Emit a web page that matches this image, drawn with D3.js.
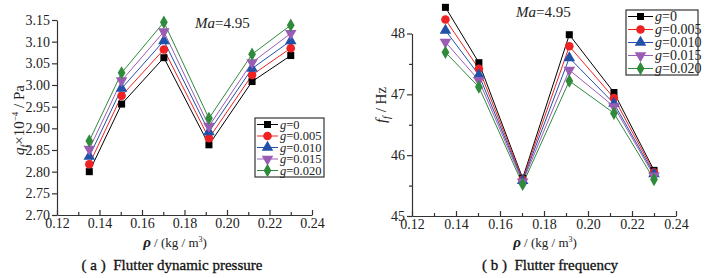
<!DOCTYPE html>
<html>
<head>
<meta charset="utf-8">
<script src="https://cdn.jsdelivr.net/npm/d3@7/dist/d3.min.js"></script>
<style>
  body { margin: 0; background: #fff; }
  svg { display: block; }
  svg text { font-family: "Liberation Serif", "Times New Roman", Times, serif; }
  .axis path, .axis line { stroke: #333; stroke-width: 1.2; }
  .axis text { font-size: 14px; fill: #222; }
</style>
</head>
<body>
<svg id="chart" width="713" height="278"></svg>
<script>
// densities (kg/m3)
const rho = [0.1352, 0.1504, 0.1703, 0.1915, 0.2118, 0.2300];
const gLabels = ["0", "0.005", "0.010", "0.015", "0.020"];

// flutter dynamic pressure q_f x 10^-4 / Pa
const qData = [
  [2.800, 2.956, 3.063, 2.862, 3.008, 3.068],
  [2.817, 2.975, 3.082, 2.877, 3.023, 3.085],
  [2.835, 2.992, 3.102, 2.892, 3.038, 3.102],
  [2.852, 3.010, 3.123, 2.905, 3.052, 3.119],
  [2.871, 3.028, 3.145, 2.923, 3.071, 3.138]
];

// flutter frequency f_f / Hz
const fData = [
  [48.43, 47.52, 45.62, 47.98, 47.03, 45.75],
  [48.23, 47.42, 45.60, 47.79, 46.94, 45.72],
  [48.05, 47.32, 45.58, 47.60, 46.85, 45.69],
  [47.86, 47.23, 45.56, 47.40, 46.80, 45.66],
  [47.69, 47.12, 45.52, 47.22, 46.69, 45.60]
];

const xTicks = [0.12, 0.14, 0.16, 0.18, 0.20, 0.22, 0.24];
const xMinor = [0.13, 0.15, 0.17, 0.19, 0.21, 0.23];
const qTicks = [2.70, 2.75, 2.80, 2.85, 2.90, 2.95, 3.00, 3.05, 3.10, 3.15];
const fTicks = [45, 46, 47, 48];
const fMinor = [45.5, 46.5, 47.5];

const colors = ["#000000", "#ee2222", "#2152a8", "#9b5cb4", "#2f8a3c"];
const shapes = [d3.symbolSquare, d3.symbolCircle, d3.symbolTriangle, "down", d3.symbolDiamond];

const svg = d3.select("#chart");

function marker(sel, i, size) {
  if (shapes[i] === "down") {
    sel.append("path")
      .attr("d", d3.symbol(d3.symbolTriangle, size)())
      .attr("transform", "rotate(180)")
      .attr("fill", colors[i]);
  } else {
    let s = size;
    if (shapes[i] === d3.symbolDiamond) s = size * 0.9;
    if (shapes[i] === d3.symbolSquare) s = size * 0.85;
    sel.append("path")
      .attr("d", d3.symbol(shapes[i], s)())
      .attr("fill", colors[i]);
  }
}

function drawPanel(o) {
  const g = svg.append("g");
  const x = d3.scaleLinear().domain([0.12, 0.24]).range([o.x0, o.x1]);
  const y = d3.scaleLinear().domain(o.yDomain).range([o.yBottom, o.yTop]);

  // bottom axis: inward ticks
  g.append("g")
    .attr("class", "axis")
    .attr("transform", `translate(0,${o.yBottom})`)
    .call(d3.axisBottom(x).tickValues(xMinor).tickSize(-3).tickFormat(""))
    .call(a => a.select(".domain").remove());
  g.append("g")
    .attr("class", "axis")
    .attr("transform", `translate(0,${o.yBottom})`)
    .call(d3.axisBottom(x).tickValues(xTicks).tickSize(-5).tickSizeOuter(0)
      .tickPadding(3).tickFormat(d3.format(".2f")));

  // left axis: outward ticks
  if (o.yMinor) {
    g.append("g")
      .attr("class", "axis")
      .attr("transform", `translate(${o.x0},0)`)
      .call(d3.axisLeft(y).tickValues(o.yMinor).tickSize(3).tickFormat(""))
      .call(a => a.select(".domain").remove());
  }
  g.append("g")
    .attr("class", "axis")
    .attr("transform", `translate(${o.x0},0)`)
    .call(d3.axisLeft(y).tickValues(o.yTicks).tickSize(5).tickSizeOuter(0)
      .tickPadding(2).tickFormat(o.yFormat));

  // series
  const line = d3.line().x((d, j) => x(rho[j])).y(d => y(d));
  o.data.forEach((vals, i) => {
    g.append("path")
      .attr("d", line(vals))
      .attr("fill", "none")
      .attr("stroke", colors[i])
      .attr("stroke-width", 1);
  });
  o.data.forEach((vals, i) => {
    vals.forEach((v, j) => {
      const m = g.append("g").attr("transform", `translate(${x(rho[j])},${y(v)})`);
      marker(m, i, o.msize);
    });
  });

  // Ma label
  const ma = g.append("text")
    .attr("x", o.maX).attr("y", o.maY)
    .attr("font-size", 15).attr("fill", "#222");
  ma.append("tspan").attr("font-style", "italic").text("Ma");
  ma.append("tspan").text("=4.95");

  // legend
  const lg = g.append("g").attr("transform", `translate(${o.lgX},${o.lgY})`);
  lg.append("rect")
    .attr("width", o.lgW).attr("height", o.lgH)
    .attr("fill", "#fff").attr("stroke", "#333").attr("stroke-width", 1.2);
  gLabels.forEach((lab, i) => {
    const ry = o.lgRow0 + i * o.lgStep;
    lg.append("line")
      .attr("x1", 2).attr("x2", o.lgLine)
      .attr("y1", ry).attr("y2", ry)
      .attr("stroke", colors[i]).attr("stroke-width", 1);
    const m = lg.append("g").attr("transform", `translate(${o.lgLine / 2 + 1},${ry})`);
    marker(m, i, o.msize);
    const t = lg.append("text")
      .attr("x", o.lgLine + 2).attr("y", ry + o.lgFont * 0.33)
      .attr("font-size", o.lgFont).attr("fill", "#222");
    t.append("tspan").attr("font-style", "italic").text("g");
    t.append("tspan").text("=" + lab);
  });

  // x label
  const xl = g.append("text")
    .attr("x", o.xlX).attr("y", 247)
    .attr("text-anchor", "middle")
    .attr("font-size", 13).attr("fill", "#222");
  xl.append("tspan").attr("font-style", "italic").attr("font-weight", "bold").attr("font-size", 15).text("ρ");
  xl.append("tspan").text(" / (kg / m");
  xl.append("tspan").attr("font-size", 8).attr("dy", -5).text("3");
  xl.append("tspan").attr("dy", 5).text(")");

  // y label
  const yl = g.append("text")
    .attr("transform", `translate(${o.ylX},${o.ylY}) rotate(-90)`)
    .attr("text-anchor", "middle")
    .attr("font-size", 15).attr("fill", "#222");
  o.yLabel(yl);

  // caption
  g.append("text")
    .attr("x", o.capX).attr("y", 270)
    .attr("text-anchor", "middle")
    .attr("font-size", 15).attr("fill", "#111")
    .attr("stroke", "#111").attr("stroke-width", 0.3)
    .attr("xml:space", "preserve")
    .text(o.caption);
}

drawPanel({
  x0: 57, x1: 312, yBottom: 215, yTop: 20,
  yDomain: [2.70, 3.15], yTicks: qTicks, yFormat: d3.format(".2f"),
  data: qData, msize: 58,
  maX: 195, maY: 28,
  lgX: 255, lgY: 118, lgW: 69, lgH: 59, lgRow0: 6.5, lgStep: 11.5, lgLine: 23, lgFont: 12.5,
  xlX: 175, ylX: 24, ylY: 120, capX: 172,
  caption: "( a )  Flutter dynamic pressure",
  yLabel: t => {
    t.append("tspan").attr("font-style", "italic").text("q");
    t.append("tspan").attr("font-style", "italic").attr("font-size", 10).attr("dy", 4).text("f");
    t.append("tspan").attr("dy", -4).text("×10");
    t.append("tspan").attr("font-size", 9).attr("dy", -6).text("−4");
    t.append("tspan").attr("dy", 6).text(" / Pa");
  }
});

drawPanel({
  x0: 412, x1: 676, yBottom: 216, yTop: 33.5,
  yDomain: [45, 48], yTicks: fTicks, yMinor: fMinor, yFormat: d3.format("d"),
  data: fData, msize: 58,
  maX: 516, maY: 17,
  lgX: 626, lgY: 10, lgW: 72, lgH: 65, lgRow0: 6.5, lgStep: 13, lgLine: 27, lgFont: 14,
  xlX: 545, ylX: 386, ylY: 105, capX: 550,
  caption: "( b )  Flutter frequency",
  yLabel: t => {
    t.append("tspan").attr("font-style", "italic").text("f");
    t.append("tspan").attr("font-style", "italic").attr("font-size", 10).attr("dy", 4).text("f");
    t.append("tspan").attr("dy", -4).text(" / Hz");
  }
});
</script>
</body>
</html>
